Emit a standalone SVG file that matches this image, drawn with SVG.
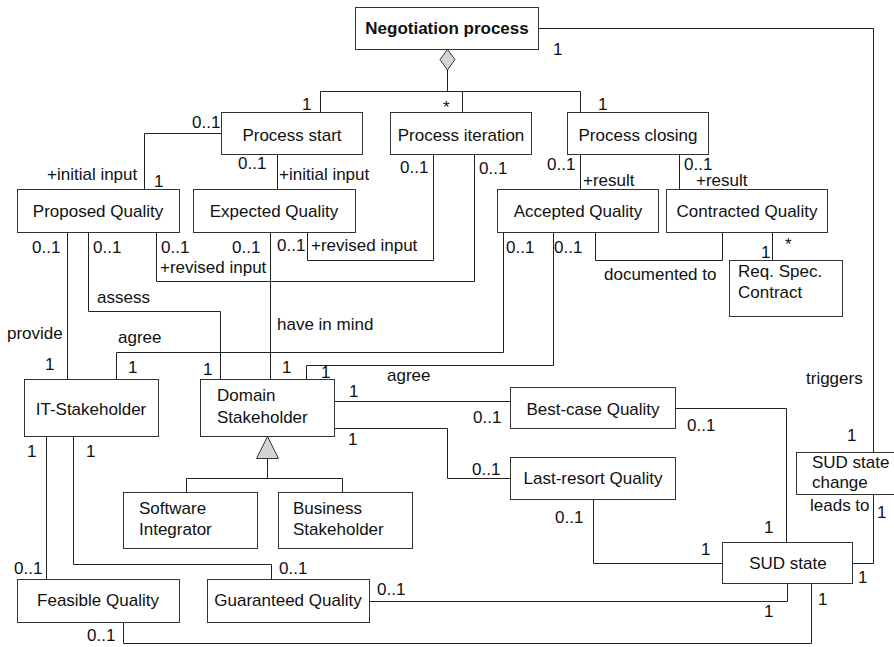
<svg xmlns="http://www.w3.org/2000/svg" width="894" height="647" viewBox="0 0 894 647">
<style>
.bx{fill:#fff;stroke:#333;stroke-width:1}
.ln{fill:none;stroke:#222;stroke-width:1}
.t{font-family:"Liberation Sans",Arial,sans-serif;font-size:17px;fill:#111}
.c{text-anchor:middle}
.b{font-weight:bold}
.sh{fill:#d4d4d4;stroke:#333;stroke-width:1}
</style>
<rect width="894" height="647" fill="#fff"/>
<g id="connectors">
<path class="ln" d="M538.5,28.5 H873.5 V452.5"/>
<path class="ln" d="M873.5,494.5 V563.5 H852.5"/>
<path class="ln" d="M447.5,70 V91.5"/>
<path class="ln" d="M320.5,112.5 V91.5 H580.5 V112.5"/>
<path class="ln" d="M462.5,91.5 V112.5"/>
<path class="ln" d="M221.5,133.5 H144.5 V189.5"/>
<path class="ln" d="M277.5,154.5 V189.5"/>
<path class="ln" d="M433.5,154.5 V260.5 H307.5 V232.5"/>
<path class="ln" d="M474.5,154.5 V281.5 H156.5 V232.5"/>
<path class="ln" d="M580.5,154.5 V189.5"/>
<path class="ln" d="M679.5,154.5 V189.5"/>
<path class="ln" d="M67.5,232.5 V379.5"/>
<path class="ln" d="M88.5,232.5 V311.5 H220.5 V379.5"/>
<path class="ln" d="M270.5,232.5 V379.5"/>
<path class="ln" d="M503.5,232.5 V352.5 H116.5 V379.5"/>
<path class="ln" d="M553.5,232.5 V365.5 H306.5 V379.5"/>
<path class="ln" d="M595.5,232.5 V260.5 H722.5 V232.5"/>
<path class="ln" d="M772.5,232.5 V260.5"/>
<path class="ln" d="M334.5,401.5 H510.5"/>
<path class="ln" d="M334.5,428.5 H447.5 V478.5 H510.5"/>
<path class="ln" d="M675.5,408.5 H786.5 V542.5"/>
<path class="ln" d="M593.5,499.5 V563.5 H722.5"/>
<path class="ln" d="M46.5,436.5 V579.5"/>
<path class="ln" d="M73.5,436.5 V564.5 H271.5 V579.5"/>
<path class="ln" d="M369.5,601.5 H787.5 V583.5"/>
<path class="ln" d="M123.5,622.5 V643.5 H811.5 V583.5"/>
<path class="ln" d="M267.5,458.5 V478.5"/>
<path class="ln" d="M186.5,492.5 V478.5 H342.5 V492.5"/>
<polygon class="sh" points="447.5,49.5 455,59.5 447.5,70 440,59.5"/>
<polygon class="sh" points="267.5,436.5 278.5,458.5 256.5,458.5"/>
</g>
<g id="labels" class="t">
<text x="553" y="55">1</text>
<text x="302" y="110">1</text>
<text x="443" y="113">*</text>
<text x="598" y="110">1</text>
<text x="192" y="128">0..1</text>
<text x="47" y="180">+initial input</text>
<text x="154" y="187">1</text>
<text x="238" y="169">0..1</text>
<text x="279" y="180">+initial input</text>
<text x="400" y="173">0..1</text>
<text x="479" y="174">0..1</text>
<text x="547" y="170">0..1</text>
<text x="583" y="186">+result</text>
<text x="684" y="170">0..1</text>
<text x="696" y="186">+result</text>
<text x="32" y="253">0..1</text>
<text x="93" y="253">0..1</text>
<text x="161" y="253">0..1</text>
<text x="232" y="253">0..1</text>
<text x="277" y="251">0..1</text>
<text x="311" y="251">+revised input</text>
<text x="160" y="273">+revised input</text>
<text x="506" y="253">0..1</text>
<text x="554" y="253">0..1</text>
<text x="604" y="280">documented to</text>
<text x="761" y="258">1</text>
<text x="785" y="250">*</text>
<text x="97" y="303">assess</text>
<text x="7" y="339">provide</text>
<text x="118" y="343">agree</text>
<text x="277" y="330">have in mind</text>
<text x="45" y="370">1</text>
<text x="128" y="373">1</text>
<text x="203" y="375">1</text>
<text x="282" y="373">1</text>
<text x="321" y="378">1</text>
<text x="387" y="381">agree</text>
<text x="349" y="397">1</text>
<text x="473" y="423">0..1</text>
<text x="806" y="384">triggers</text>
<text x="687" y="431">0..1</text>
<text x="27" y="457">1</text>
<text x="86" y="457">1</text>
<text x="348" y="445">1</text>
<text x="472" y="475">0..1</text>
<text x="555" y="523">0..1</text>
<text x="14" y="574">0..1</text>
<text x="279" y="574">0..1</text>
<text x="377" y="595">0..1</text>
<text x="87" y="641">0..1</text>
<text x="764" y="533">1</text>
<text x="701" y="555">1</text>
<text x="847" y="441">1</text>
<text x="877" y="518">1</text>
<text x="810" y="511">leads to</text>
<text x="858" y="583">1</text>
<text x="818" y="605">1</text>
<text x="764" y="617">1</text>
</g>
<g id="negotiation-process"><rect class="bx" x="355.5" y="7.5" width="183" height="42"/><text class="t c b" x="447" y="34">Negotiation process</text></g>
<g id="process-start"><rect class="bx" x="221.5" y="112.5" width="141" height="42"/><text class="t c" x="292" y="141">Process start</text></g>
<g id="process-iteration"><rect class="bx" x="390.5" y="112.5" width="141" height="42"/><text class="t c" x="461" y="141">Process iteration</text></g>
<g id="process-closing"><rect class="bx" x="567.5" y="112.5" width="141" height="42"/><text class="t c" x="638" y="141">Process closing</text></g>
<g id="proposed-quality"><rect class="bx" x="17.5" y="189.5" width="162" height="43"/><text class="t c" x="98" y="217">Proposed Quality</text></g>
<g id="expected-quality"><rect class="bx" x="193.5" y="189.5" width="162" height="43"/><text class="t c" x="274" y="217">Expected Quality</text></g>
<g id="accepted-quality"><rect class="bx" x="497.5" y="189.5" width="161" height="43"/><text class="t c" x="578" y="217">Accepted Quality</text></g>
<g id="contracted-quality"><rect class="bx" x="666.5" y="189.5" width="161" height="43"/><text class="t c" x="747" y="217">Contracted Quality</text></g>
<g id="req-spec-contract"><rect class="bx" x="729.5" y="260.5" width="113" height="56"/><text class="t" x="738" y="277">Req. Spec.</text><text class="t" x="738" y="298">Contract</text></g>
<g id="it-stakeholder"><rect class="bx" x="24.5" y="379.5" width="134" height="57"/><text class="t c" x="91" y="415">IT-Stakeholder</text></g>
<g id="domain-stakeholder"><rect class="bx" x="200.5" y="379.5" width="134" height="57"/><text class="t" x="217" y="401">Domain</text><text class="t" x="217" y="423">Stakeholder</text></g>
<g id="best-case-quality"><rect class="bx" x="510.5" y="387.5" width="165" height="41"/><text class="t c" x="593" y="415">Best-case Quality</text></g>
<g id="last-resort-quality"><rect class="bx" x="510.5" y="457.5" width="165" height="42"/><text class="t c" x="593" y="484">Last-resort Quality</text></g>
<g id="software-integrator"><rect class="bx" x="123.5" y="492.5" width="134" height="56"/><text class="t" x="139" y="514">Software</text><text class="t" x="139" y="535">Integrator</text></g>
<g id="business-stakeholder"><rect class="bx" x="278.5" y="492.5" width="134" height="56"/><text class="t" x="293" y="514">Business</text><text class="t" x="293" y="535">Stakeholder</text></g>
<g id="sud-state-change"><rect class="bx" x="796.5" y="452.5" width="110" height="42"/><text class="t" x="812" y="468">SUD state</text><text class="t" x="812" y="488">change</text></g>
<g id="sud-state"><rect class="bx" x="722.5" y="542.5" width="130" height="41"/><text class="t c" x="788" y="569">SUD state</text></g>
<g id="feasible-quality"><rect class="bx" x="17.5" y="579.5" width="162" height="43"/><text class="t c" x="98" y="606">Feasible Quality</text></g>
<g id="guaranteed-quality"><rect class="bx" x="207.5" y="579.5" width="162" height="43"/><text class="t c" x="288" y="606">Guaranteed Quality</text></g>
</svg>
